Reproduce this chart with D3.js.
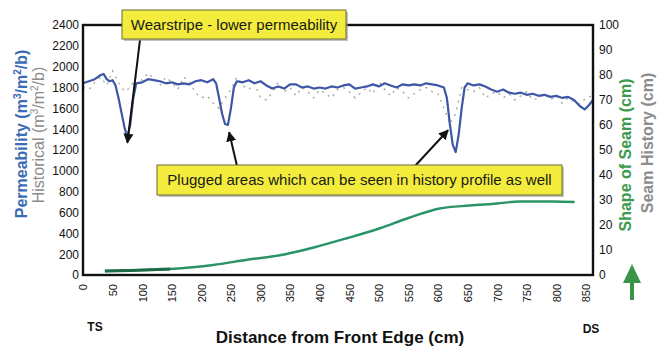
<!DOCTYPE html>
<html>
<head>
<meta charset="utf-8" />
<title>Permeability profile</title>
<script src="https://d3js.org/d3.v7.min.js"></script>
<style>
  body { margin: 0; background: #fff; }
  text { font-family: "Liberation Sans", Arial, sans-serif; }
</style>
</head>
<body>
<svg width="665" height="349" id="svg1"></svg>
<script>
// distance along the seam (cm)
var permX = [0,10,20,30,35,40,45,50,55,60,65,70,75,80,85,90,100,110,120,130,140,150,160,170,180,190,200,210,220,225,230,235,240,245,250,255,260,270,280,290,300,310,320,330,340,350,360,370,380,390,400,410,420,430,440,450,460,470,480,490,500,510,520,530,540,550,560,570,580,590,600,610,615,620,625,630,635,640,645,650,660,670,680,690,700,710,720,730,740,750,760,770,780,790,800,810,820,830,840,848,855,862];
// permeability (m3/m2/b)
var permY = [1840,1860,1880,1920,1930,1880,1860,1870,1820,1700,1560,1420,1320,1450,1700,1840,1850,1880,1870,1860,1840,1850,1830,1840,1830,1860,1870,1850,1880,1840,1700,1550,1450,1440,1600,1800,1860,1850,1870,1840,1860,1820,1790,1810,1790,1830,1830,1800,1810,1790,1800,1790,1810,1800,1820,1830,1790,1800,1810,1830,1810,1840,1820,1800,1830,1820,1830,1820,1840,1830,1820,1800,1700,1450,1250,1180,1350,1600,1800,1840,1820,1830,1810,1780,1760,1780,1750,1740,1750,1730,1740,1720,1730,1710,1720,1700,1710,1680,1620,1590,1630,1680];

// historical permeability (m3/m2/b)
var histX = [0,10,20,30,40,50,60,70,80,90,100,110,120,130,140,150,160,170,180,190,200,210,220,230,240,250,260,270,280,290,300,310,320,330,340,350,360,370,380,390,400,410,420,430,440,450,460,470,480,490,500,510,520,530,540,550,560,570,580,590,600,610,620,630,640,650,660,670,680,690,700,710,720,730,740,750,760,770,780,790,800,810,820,830,840,850,860];
var histY = [1800,1780,1850,1900,1820,1960,1850,1760,1800,1900,1870,1940,1880,1820,1900,1850,1780,1900,1860,1750,1700,1720,1650,1600,1700,1780,1900,1820,1780,1840,1700,1680,1750,1850,1760,1800,1720,1800,1760,1700,1780,1740,1700,1780,1800,1760,1700,1750,1800,1740,1860,1780,1720,1800,1760,1700,1740,1780,1800,1760,1740,1600,1450,1550,1800,1780,1760,1800,1700,1740,1760,1700,1740,1680,1720,1760,1680,1700,1740,1680,1720,1650,1700,1660,1640,1700,1720];

// shape of seam (cm)
var seamX = [37,80,147,220,280,333,390,446,502,550,603,654,700,738,794,831];
var seamY = [1.6,1.8,2.4,4,6.2,7.9,11,14.7,18.7,22.8,26.6,27.8,28.6,29.4,29.4,29.2];

var xTicks = d3.range(0, 851, 50);
var leftTicks = d3.range(0, 2401, 200);
var rightTicks = d3.range(0, 101, 10);

var svg = d3.select("#svg1");
var L = 83, R = 593, T = 25, B = 275;

var x = d3.scaleLinear().domain([0, 862]).range([L, R]);
var yL = d3.scaleLinear().domain([0, 2400]).range([B, T]);
var yR = d3.scaleLinear().domain([0, 100]).range([B, T]);

// axes (labels only, frame drawn separately)
var axL = svg.append("g").attr("transform", "translate(" + L + ",0)")
  .call(d3.axisLeft(yL).tickValues(leftTicks).tickFormat(d3.format("d")).tickSize(0).tickPadding(4));
var axR = svg.append("g").attr("transform", "translate(" + R + ",0)")
  .call(d3.axisRight(yR).tickValues(rightTicks).tickFormat(d3.format("d")).tickSize(0).tickPadding(6));
var axB = svg.append("g").attr("transform", "translate(0," + B + ")")
  .call(d3.axisBottom(x).tickValues(xTicks).tickFormat(d3.format("d")).tickSize(0).tickPadding(0));
[axL, axR, axB].forEach(function(a) {
  a.select(".domain").remove();
  a.selectAll("text").style("font-family", "'Liberation Sans Narrow','Liberation Sans',Arial,sans-serif")
    .style("font-size", "12px").style("fill", "#111");
});
axB.selectAll("text")
  .attr("transform", "rotate(-90)")
  .attr("text-anchor", "end")
  .attr("dy", "0.35em")
  .attr("x", -9)
  .attr("y", 0)
  .style("font-size", "11px");

// lines
var histLine = d3.line().x(function(d, i) { return x(histX[i]); }).y(function(d) { return yL(d); });
svg.append("path").datum(histY).attr("d", histLine)
  .attr("fill", "none").attr("stroke", "#a8a8a8").attr("stroke-width", 1.4)
  .attr("stroke-dasharray", "2,5");

var permLine = d3.line().x(function(d, i) { return x(permX[i]); }).y(function(d) { return yL(d); });
svg.append("path").datum(permY).attr("d", permLine)
  .attr("fill", "none").attr("stroke", "#3d56a6").attr("stroke-width", 2.2)
  .attr("stroke-linejoin", "round");

var seamLine = d3.line().curve(d3.curveMonotoneX)
  .x(function(d, i) { return x(seamX[i]); }).y(function(d) { return yR(d); });
svg.append("path").datum(seamY).attr("d", seamLine)
  .attr("fill", "none").attr("stroke", "#2a9468").attr("stroke-width", 2.4);
svg.append("path").datum(seamY.slice(0, 3))
  .attr("d", d3.line().x(function(d, i) { return x(seamX[i]); }).y(function(d) { return yR(d); }))
  .attr("fill", "none").attr("stroke", "#1f6a48").attr("stroke-width", 3.2);

// frame
svg.append("rect").attr("x", L).attr("y", T).attr("width", R - L).attr("height", B - T)
  .attr("fill", "none").attr("stroke", "#111").attr("stroke-width", 2.4);

// arrows
var defs = svg.append("defs");
defs.append("marker").attr("id", "ah").attr("viewBox", "0 0 10 10")
  .attr("refX", 9).attr("refY", 5).attr("markerWidth", 5).attr("markerHeight", 6)
  .attr("markerUnits", "strokeWidth").attr("orient", "auto")
  .append("path").attr("d", "M0,0L10,5L0,10z").attr("fill", "#111");

var arrows = [
  { x1: 140, y1: 40, dx: 75, dv: 1270 },
  { x1: 237, y1: 166, dx: 247, dv: 1370 },
  { x1: 415, y1: 166, dx: 617, dv: 1390 }
];
arrows.forEach(function(a) {
  svg.append("line").attr("x1", a.x1).attr("y1", a.y1)
    .attr("x2", x(a.dx)).attr("y2", yL(a.dv))
    .attr("stroke", "#111").attr("stroke-width", 2).attr("marker-end", "url(#ah)");
});

// callout boxes
function callout(bx, by, bw, bh, label) {
  svg.append("rect").attr("x", bx + 2).attr("y", by + 2).attr("width", bw).attr("height", bh)
    .attr("fill", "#9a9a8a").attr("opacity", 0.6);
  svg.append("rect").attr("x", bx).attr("y", by).attr("width", bw).attr("height", bh)
    .attr("fill", "#f3ec3c").attr("stroke", "#6b6b3a").attr("stroke-width", 1);
  svg.append("text").attr("x", bx + bw / 2).attr("y", by + bh / 2 + 5)
    .attr("text-anchor", "middle").style("font-size", "15px").style("fill", "#1a1a1a")
    .text(label);
}
callout(122, 10, 224, 29, "Wearstripe - lower permeability");
callout(157, 165, 405, 30, "Plugged areas which can be seen in history profile as well");

// axis titles
svg.append("text").attr("transform", "translate(27,134) rotate(-90)")
  .attr("text-anchor", "middle").style("font-size", "16px").style("font-weight", "bold")
  .style("fill", "#3b6cb5").html("Permeability (m<tspan dy='-6' font-size='10'>3</tspan><tspan dy='6'>/m</tspan><tspan dy='-6' font-size='10'>2</tspan><tspan dy='6'>/b)</tspan>");
svg.append("text").attr("transform", "translate(44,135) rotate(-90)")
  .attr("text-anchor", "middle").style("font-size", "16px")
  .style("fill", "#8c8c8c").html("Historical (m<tspan dy='-6' font-size='10'>3</tspan><tspan dy='6'>/m</tspan><tspan dy='-6' font-size='10'>2</tspan><tspan dy='6'>/b)</tspan>");

svg.append("text").attr("transform", "translate(631,155) rotate(-90)")
  .attr("text-anchor", "middle").style("font-size", "16px").style("font-weight", "bold")
  .style("fill", "#3c9a4c").text("Shape of Seam (cm)");
svg.append("text").attr("transform", "translate(653,143) rotate(-90)")
  .attr("text-anchor", "middle").style("font-size", "16px").style("font-weight", "bold")
  .style("fill", "#8c8c8c").text("Seam History (cm)");

// green up arrow
svg.append("path").attr("d", "M632,264L641,283L634,283L634,300L630,300L630,283L623,283Z")
  .attr("fill", "#3a9448");

svg.append("text").attr("x", 340).attr("y", 343).attr("text-anchor", "middle")
  .style("font-size", "17px").style("font-weight", "bold").style("fill", "#111")
  .text("Distance from Front Edge (cm)");
svg.append("text").attr("x", 95).attr("y", 331).attr("text-anchor", "middle")
  .style("font-size", "12px").style("font-weight", "bold").style("fill", "#111").text("TS");
svg.append("text").attr("x", 591).attr("y", 333).attr("text-anchor", "middle")
  .style("font-size", "12px").style("font-weight", "bold").style("fill", "#111").text("DS");
</script>
</body>
</html>
